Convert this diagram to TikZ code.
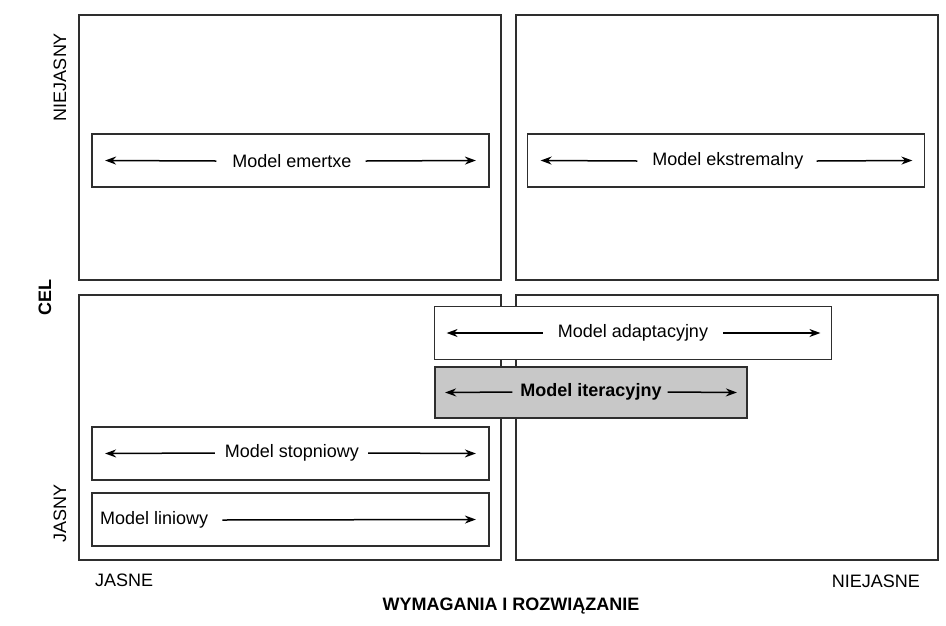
\documentclass[tikz,border=0pt]{standalone}
\usepackage{fontspec}
\setmainfont{Liberation Sans}
\usetikzlibrary{arrows.meta,calc}
\definecolor{ink}{HTML}{2E2E2E}
\definecolor{itergray}{HTML}{C8C8C8}
\tikzset{
  quad/.style={draw=ink, line width=2pt, fill=white, minimum width=422pt, minimum height=265pt, inner sep=0pt},
  modelbox/.style={draw=ink, line width=1.8pt, fill=white, minimum width=397pt, minimum height=53pt, inner sep=0pt},
  lbl/.style={font=\fontsize{18}{21}\selectfont, text=black, inner xsep=0pt, inner ysep=2pt},
  axislbl/.style={font=\fontsize{18}{21}\selectfont, text=black, inner sep=0pt},
  arr/.style={-{Stealth[length=11pt,width=8pt]}, line width=1.5pt, draw=black},
}
\begin{document}
\begin{tikzpicture}[x=1pt,y=-1pt]
\useasboundingbox (0,0) rectangle (946,625);
% quadrants
\node[quad] (q1) at (290,147.5) {};
\node[quad] (q2) at (726.5,147.5) {};
\node[quad] (q3) at (290,427) {};
\node[quad] (q4) at (726.5,427) {};
% model boxes
\node[modelbox] (b1) at (290.5,160.5) {};
\node[modelbox] (b2) at (726,160.5) {};
\node[modelbox] (b3) at (633,333) {};
\node[modelbox, fill=itergray, minimum width=312pt, minimum height=51pt] (b4) at (591,392.5) {};
\node[modelbox] (b5) at (290.5,453.5) {};
\node[modelbox] (b6) at (290.5,519.5) {};
% texts
\node[lbl] (t1) at (292,161) {Model emertxe};
\node[lbl] (t2) at (728,161) {Model ekstremalny};
\node[lbl] (t3) at (633,333) {Model adaptacyjny};
\node[lbl, font=\fontsize{18}{21}\selectfont\bfseries] (t4) at (591,392) {Model iteracyjny};
\node[lbl] (t5) at (292,453) {Model stopniowy};
\node[lbl, anchor=west] (t6) at (100,520) {Model liniowy};
% arrows
\draw[arr] ([xshift=-16pt]t1.west) -- ([xshift=14pt]b1.west);
\draw[arr] ([xshift=14pt]t1.east) -- ([xshift=-14pt]b1.east);
\draw[arr] ([xshift=-15pt]t2.west) -- ([xshift=14pt]b2.west);
\draw[arr] ([xshift=13pt]t2.east) -- ([xshift=-13pt]b2.east);
\draw[arr] ([xshift=-15pt]t3.west) -- ([xshift=13pt]b3.west);
\draw[arr] ([xshift=15pt]t3.east) -- ([xshift=-12pt]b3.east);
\draw[arr] ([xshift=-8pt]t4.west) -- ([xshift=11pt]b4.west);
\draw[arr] ([xshift=6pt]t4.east) -- ([xshift=-11pt]b4.east);
\draw[arr] ([xshift=-10pt]t5.west) -- ([xshift=14pt]b5.west);
\draw[arr] ([xshift=9pt]t5.east) -- ([xshift=-14pt]b5.east);
\draw[arr] ([xshift=14pt]t6.east) -- ([xshift=-14pt]b6.east);
% axis labels
\node[axislbl, rotate=90] (niejasny) at (60,77) {NIEJASNY};
\node[axislbl, rotate=90, font=\fontsize{18}{21}\selectfont\bfseries] (cel) at (45,297) {CEL};
\node[axislbl, rotate=90] (jasny) at (60,513) {JASNY};
\node[axislbl, anchor=west] (jasne) at (95,580) {JASNE};
\node[axislbl, anchor=east] (niejasne) at (920,581) {NIEJASNE};
\node[axislbl, font=\fontsize{18}{21}\selectfont\bfseries] (wym) at (511,606) {WYMAGANIA I ROZWIĄZANIE};
\end{tikzpicture}
\end{document}
